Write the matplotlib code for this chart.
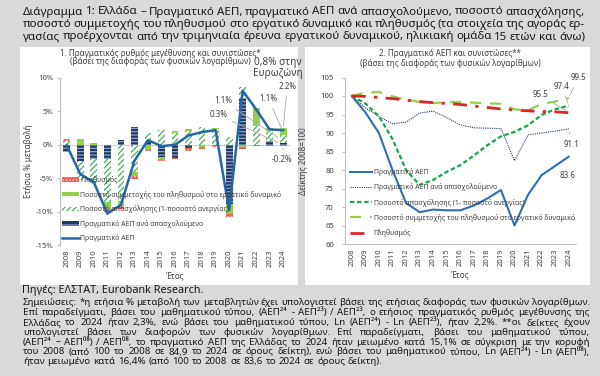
import numpy as np
import matplotlib.pyplot as plt
from matplotlib.patches import Rectangle, Patch
from matplotlib.lines import Line2D

plt.rcParams['font.family'] = ['Noto Sans', 'DejaVu Sans']
plt.rcParams['hatch.linewidth'] = 0.8

years = [str(y) for y in range(2008, 2025)]

# Panel 1: annual log-change components (%)
gdp_per_emp = [-1.1, -2.4, -2.1, -2.2, 0.7, 2.6, 0.5, -1.9, -2.0, -0.5, -0.1, -0.1, -8.9, 7.0, 0.0, 0.6, 0.3]
emp_rate = [0.6, -2.8, -3.7, -6.3, -8.4, -4.0, 1.3, 2.2, 1.8, 2.1, 2.6, 2.4, 1.2, 1.6, 2.8, 1.5, 1.1]
part_rate = [0.0, 0.8, 0.2, -1.2, -0.8, -0.7, -0.6, -0.3, 0.3, 0.2, -0.3, 0.1, -1.5, -0.4, 2.7, 0.4, 1.1]
population = [0.3, 0.0, -0.1, -0.3, -0.4, -0.4, -0.4, -0.2, -0.2, -0.4, -0.3, -0.2, -0.4, -0.2, -0.2, -0.2, -0.2]
gdp_growth = [-0.1, -4.4, -5.6, -10.3, -9.0, -2.4, 0.7, -0.2, 0.0, 1.4, 1.9, 2.2, -9.8, 8.1, 5.3, 2.3, 2.2]

# Panel 2: indices, 2008 = 100
gdp_idx = [100, 95.6, 90.0, 80.0, 71.1, 68.6, 69.3, 69.1, 69.1, 70.4, 72.3, 74.6, 65.0, 73.3, 78.6, 81.1, 83.6]
gdp_emp_idx = [100, 96.8, 94.5, 92.5, 92.9, 95.4, 95.9, 94.2, 92.2, 91.4, 91.3, 91.2, 82.5, 89.5, 90.0, 90.5, 91.1]
emp_idx = [100, 98.0, 94.5, 88.4, 80.0, 76.0, 77.3, 79.5, 81.3, 83.9, 86.7, 89.1, 90.3, 92.1, 94.9, 96.4, 97.4]
part_idx = [100, 100.9, 101.1, 99.9, 99.0, 98.4, 98.1, 98.3, 98.4, 98.2, 98.0, 97.9, 96.4, 96.1, 97.9, 98.5, 99.5]
pop_idx = [100, 99.9, 99.6, 99.3, 98.9, 98.5, 98.2, 98.0, 97.7, 97.3, 96.9, 96.5, 96.2, 96.0, 95.8, 95.7, 95.5]

title_lines = [
    "Διάγραμμα 1: Ελλάδα – Πραγματικό ΑΕΠ, πραγματικό ΑΕΠ ανά απασχολούμενο, ποσοστό απασχόλησης,",
    "ποσοστό συμμετοχής του πληθυσμού στο εργατικό δυναμικό και πληθυσμός (τα στοιχεία της αγοράς ερ-",
    "γασίας προέρχονται από την τριμηνιαία έρευνα εργατικού δυναμικού, ηλικιακή ομάδα 15 ετών και άνω)",
]
note_lines = [
    "Σημειώσεις: *η ετήσια % μεταβολή των μεταβλητών έχει υπολογιστεί βάσει της ετήσιας διαφοράς των φυσικών λογαρίθμων.",
    "Επί παραδείγματι, βάσει του μαθηματικού τύπου, (ΑΕΠ²⁴ - ΑΕΠ²³) / ΑΕΠ²³, ο ετήσιος πραγματικός ρυθμός μεγέθυνσης της",
    "Ελλάδας το 2024 ήταν 2,3%, ενώ βάσει του μαθηματικού τύπου, Ln (ΑΕΠ²⁴) - Ln (ΑΕΠ²³), ήταν 2,2%. **οι δείκτες έχουν",
    "υπολογιστεί βάσει των διαφορών των φυσικών λογαρίθμων. Επί παραδείγματι, βάσει του μαθηματικού τύπου,",
    "(ΑΕΠ²⁴ – ΑΕΠ⁰⁸) / ΑΕΠ⁰⁸, το πραγματικό ΑΕΠ της Ελλάδας το 2024 ήταν μειωμένο κατά 15,1% σε σύγκριση με την κορυφή",
    "του 2008 (από 100 το 2008 σε 84,9 το 2024 σε όρους δείκτη), ενώ βάσει του μαθηματικού τύπου, Ln (ΑΕΠ²⁴) - Ln (ΑΕΠ⁰⁸),",
    "ήταν μειωμένο κατά 16,4% (από 100 το 2008 σε 83,6 το 2024 σε όρους δείκτη).",
]

W, H = 600, 376
TXT = '#404040'
fig = plt.figure(figsize=(6, 3.76), dpi=100, facecolor='#d9d9d9')

def fx(px):
    return px / W

def fy(py):
    return 1 - py / H

# White panels
fig.patches.append(Rectangle((fx(20), fy(285)), fx(278), (285 - 47) / H, transform=fig.transFigure,
                             facecolor='white', edgecolor='none', zorder=-5))
fig.patches.append(Rectangle((fx(305), fy(285)), fx(285), (285 - 47) / H, transform=fig.transFigure,
                             facecolor='white', edgecolor='none', zorder=-5))

# Justified text line
def justify(text, py, x0, x1, size, color='#1a1a1a', weight='normal', last=False):
    r = fig.canvas.get_renderer()
    words = text.split(' ')
    objs = [fig.text(0, fy(py), w, fontsize=size, color=color, weight=weight, va='center') for w in words]
    widths = [o.get_window_extent(r).width / fig.bbox.width for o in objs]
    if last or len(words) == 1:
        gap = size * 0.28 / 72 * 100 / W
    else:
        gap = (fx(x1) - fx(x0) - sum(widths)) / (len(words) - 1)
    x = fx(x0)
    for o, w in zip(objs, widths):
        o.set_x(x)
        x += w + gap

for i, line in enumerate(title_lines):
    justify(line, 12 + i * 12.5, 23, 585, 8.35)

fig.text(fx(22), fy(290), "Πηγές: ΕΛΣΤΑΤ, Eurobank Research.", fontsize=7.8, weight='bold',
         color='#1a1a1a', va='center')
for i, line in enumerate(note_lines):
    justify(line, 302.5 + i * 9.9, 23, 590, 7.0, last=(i == len(note_lines) - 1))

x = np.arange(len(years))

# ---------------- Panel 1 ----------------
ax1 = fig.add_axes([fx(60), fy(245), fx(230), (245 - 78) / H])
ax1.set_facecolor('none')
ax1.set_zorder(2)

comps = [
    (gdp_per_emp, dict(facecolor='#1f3864', edgecolor='#9fb0cc', hatch='-----')),
    (emp_rate, dict(facecolor='white', edgecolor='#2ea84a', hatch='//////')),
    (part_rate, dict(facecolor='#92d050', edgecolor='#92d050')),
    (population, dict(facecolor='#f05a55', edgecolor='#fbd0cc', hatch='.....')),
]
pos_base = np.zeros(len(years))
neg_base = np.zeros(len(years))
for vals, style in comps:
    v = np.array(vals)
    bottom = np.where(v >= 0, pos_base, neg_base)
    ax1.bar(x, v, 0.5, bottom=bottom, linewidth=0, zorder=2, **style)
    pos_base += np.where(v >= 0, v, 0)
    neg_base += np.where(v < 0, v, 0)

ax1.plot(x, gdp_growth, color='#2367a8', lw=1.8, zorder=3)
ax1.axhline(0, color='#d0d0d0', lw=0.8, zorder=1)

ax1.set_xlim(-0.5, len(years) - 0.5)
ax1.set_ylim(-15, 10)
ax1.set_yticks([-15, -10, -5, 0, 5, 10])
ax1.set_yticklabels(['-15%', '-10%', '-5%', '0%', '5%', '10%'])
ax1.set_xticks(x)
ax1.set_xticklabels(years, rotation=90)
ax1.tick_params(axis='x', length=0, labelsize=5.5, colors=TXT, pad=3)
ax1.tick_params(axis='y', length=2, labelsize=5.5, colors=TXT, pad=3, color='#bfbfbf')
for s in ['top', 'right', 'bottom']:
    ax1.spines[s].set_visible(False)
ax1.spines['left'].set_color('#bfbfbf')
ax1.spines['left'].set_linewidth(0.8)
ax1.set_xlabel('Έτος', fontsize=5.8, color=TXT, labelpad=3)
ax1.set_ylabel('Ετήσια % μεταβολή', fontsize=5.8, color=TXT, labelpad=2)

fig.text(fx(160), fy(53), "1. Πραγματικός ρυθμός μεγέθυνσης και συνιστώσες*", fontsize=5.8,
         color=TXT, ha='center', va='center')
fig.text(fx(160), fy(62), "(βάσει της διαφοράς των φυσικών λογαρίθμων)", fontsize=5.8,
         color=TXT, ha='center', va='center')

lead = dict(arrowstyle='-', color='#a6a6a6', lw=0.6)
ann1 = [
    ("1.1%", (11.55, 6.6), (15.8, 0.85)),
    ("0.3%", (11.2, 4.5), (15.8, 0.15)),
    ("1.1%", (14.9, 6.9), (16.0, 1.9)),
    ("2.2%", (16.3, 8.8), (16.0, 2.4)),
    ("-0.2%", (15.9, -2.2), (16.0, -0.1)),
]
for lab, xy_text, xy in ann1:
    ax1.annotate(lab, xy=xy, xytext=xy_text, fontsize=5.8, color=TXT, ha='center', va='center',
                 arrowprops=lead, annotation_clip=False, zorder=4)
ax1.text(15.6, 11.5, "0,8% στην\nΕυρωζώνη", fontsize=7.2, color=TXT, ha='center', va='center',
         linespacing=1.0, clip_on=False)

h1 = [
    Patch(facecolor='#f05a55', edgecolor='#fbd0cc', hatch='.....', linewidth=0),
    Patch(facecolor='#92d050', edgecolor='#92d050', linewidth=0),
    Patch(facecolor='white', edgecolor='#2ea84a', hatch='//////', linewidth=0),
    Patch(facecolor='#1f3864', edgecolor='#9fb0cc', hatch='---', linewidth=0),
    Line2D([], [], color='#2367a8', lw=1.8),
]
l1 = ["Πληθυσμός", "Ποσοστό συμμετοχής του πληθυσμού στο εργατικό δυναμικό",
      "Ποσοστό απασχόλησης (1-ποσοστό ανεργίας)", "Πραγματικό ΑΕΠ ανά απασχολούμενο", "Πραγματικό ΑΕΠ"]
ax1.legend(h1, l1, loc='upper left', bbox_to_anchor=(fx(62), fy(176)), bbox_transform=fig.transFigure,
           frameon=False, fontsize=5.0, labelcolor=TXT, handlelength=2.4, handleheight=0.6,
           handletextpad=0.25, labelspacing=0.95, borderpad=0, borderaxespad=0)

# ---------------- Panel 2 ----------------
ax2 = fig.add_axes([fx(345), fy(244), fx(230.5), (244 - 77.5) / H])
ax2.set_facecolor('none')
ax2.set_zorder(2)
ax2.plot(x, gdp_idx, color='#2e6fb5', lw=1.5, label='Πραγματικό ΑΕΠ', zorder=3)
ax2.plot(x, gdp_emp_idx, color='#203864', lw=0.8, ls=(0, (1, 1)),
         label='Πραγματικό ΑΕΠ ανά απασχολούμενο', zorder=3)
ax2.plot(x, emp_idx, color='#12a84a', lw=1.6, ls=(0, (2, 1.2)),
         label='Ποσοστό απασχόλησης (1- ποσοστό ανεργίας)', zorder=3)
ax2.plot(x, part_idx, color='#92d050', lw=1.6, ls=(0, (5, 4)),
         label='Ποσοστό συμμετοχής του πληθυσμού στο εργατικό δυναμικό', zorder=3)
ax2.plot(x, pop_idx, color='#e02424', lw=2.0, ls=(0, (5, 3, 1.2, 3)), label='Πληθυσμός', zorder=3)

ax2.set_xlim(-0.5, len(years) - 0.5)
ax2.set_ylim(60, 105)
ax2.set_yticks(range(60, 106, 5))
ax2.set_xticks(x)
ax2.set_xticklabels(years, rotation=90)
ax2.tick_params(axis='x', length=0, labelsize=5.5, colors=TXT, pad=3)
ax2.tick_params(axis='y', length=2, labelsize=5.5, colors=TXT, pad=6, color='#bfbfbf')
for s in ['top', 'right']:
    ax2.spines[s].set_visible(False)
for s in ['left', 'bottom']:
    ax2.spines[s].set_color('#bfbfbf')
    ax2.spines[s].set_linewidth(0.8)
ax2.set_xlabel('Έτος', fontsize=5.8, color=TXT, labelpad=3)
ax2.set_ylabel('Δείκτης 2008=100', fontsize=5.8, color=TXT, labelpad=9)

fig.text(fx(450), fy(53), "2. Πραγματικό ΑΕΠ και συνιστώσες**", fontsize=5.8,
         color=TXT, ha='center', va='center')
fig.text(fx(450), fy(63), "(βάσει της διαφοράς των φυσικών λογαρίθμων)", fontsize=5.8,
         color=TXT, ha='center', va='center')

ann2 = [
    ("99.5", (16.7, 104.9), (16.0, 99.5)),
    ("97.4", (15.5, 102.6), (16.0, 97.4)),
    ("95.5", (13.9, 100.4), (16.0, 95.5)),
    ("91.1", (16.2, 87.0), (16.0, 90.9)),
]
for lab, xy_text, xy in ann2:
    ax2.annotate(lab, xy=xy, xytext=xy_text, fontsize=5.8, color=TXT, ha='center', va='center',
                 arrowprops=lead, annotation_clip=False, zorder=4)
ax2.text(15.9, 78.6, "83.6", fontsize=5.8, color=TXT, ha='center', va='center')

ax2.legend(loc='upper left', bbox_to_anchor=(fx(350), fy(168)), bbox_transform=fig.transFigure,
           frameon=False, fontsize=5.0, labelcolor=TXT, handlelength=3.2, handletextpad=0.2,
           labelspacing=1.05, borderpad=0, borderaxespad=0)

fig.savefig('out.png', dpi=100, facecolor=fig.get_facecolor())
